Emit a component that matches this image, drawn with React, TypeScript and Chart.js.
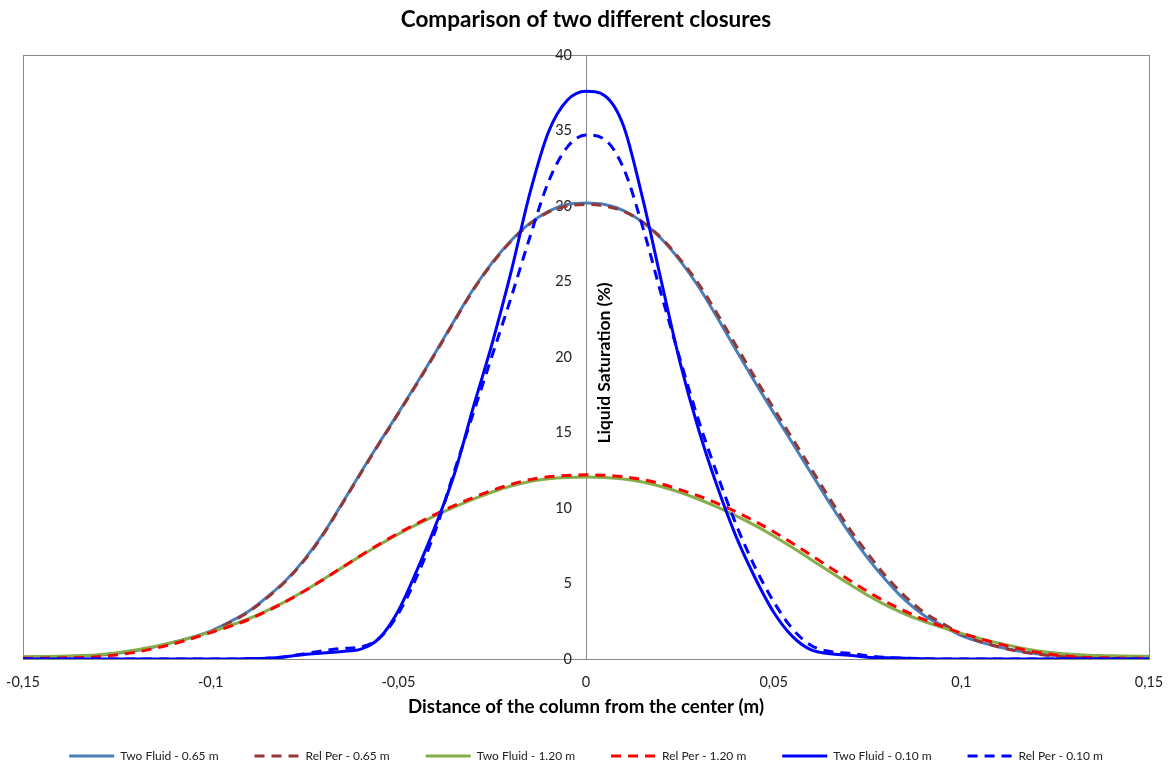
import React, { useEffect, useRef } from "react";
import { Chart, registerables } from "chart.js";

Chart.register(...registerables);

const chartTitle = "Comparison of two different closures";
const xAxisTitle = "Distance of the column from the center (m)";
const yAxisTitle = "Liquid Saturation (%)";

const xTickValues = [-0.15, -0.1, -0.05, 0, 0.05, 0.1, 0.15];
const xTickLabels = ["-0,15", "-0,1", "-0,05", "0", "0,05", "0,1", "0,15"];
const yTickValues = [0, 5, 10, 15, 20, 25, 30, 35, 40];
const yTickLabels = ["0", "5", "10", "15", "20", "25", "30", "35", "40"];

const seriesNames = [
  "Two Fluid - 0.65 m",
  "Rel Per - 0.65 m",
  "Two Fluid - 1.20 m",
  "Rel Per - 1.20 m",
  "Two Fluid - 0.10 m",
  "Rel Per - 0.10 m",
];

const xPositions = [
  -0.15, -0.14, -0.13, -0.12, -0.11, -0.1,
  -0.095, -0.09, -0.085, -0.08, -0.075, -0.07, -0.065, -0.06, -0.055, -0.05,
  -0.045, -0.04, -0.035, -0.03, -0.025, -0.02, -0.015, -0.01, -0.005, 0,
  0.005, 0.01, 0.015, 0.02, 0.025, 0.03, 0.035, 0.04, 0.045, 0.05,
  0.055, 0.06, 0.065, 0.07, 0.075, 0.08, 0.085, 0.09, 0.095, 0.1,
  0.11, 0.12, 0.13, 0.14, 0.15,
];

const twoFluid065 = [
  0.12, 0.15, 0.25, 0.55, 1.1, 1.85,
  2.45, 3.15, 4.1, 5.2, 6.6, 8.3, 10.3, 12.35, 14.35, 16.3,
  18.3, 20.35, 22.45, 24.5, 26.25, 27.7, 28.85, 29.65, 30.1, 30.2,
  30.1, 29.7, 28.95, 27.85, 26.4, 24.65, 22.6, 20.45, 18.35, 16.3,
  14.3, 12.3, 10.3, 8.4, 6.7, 5.2, 3.9, 2.9, 2.2, 1.55,
  0.8, 0.35, 0.17, 0.12, 0.1,
];

const relPer065 = [
  0.05, 0.08, 0.18, 0.5, 1.05, 1.8,
  2.4, 3.1, 4.05, 5.15, 6.55, 8.25, 10.25, 12.3, 14.3, 16.25,
  18.25, 20.3, 22.4, 24.45, 26.2, 27.65, 28.8, 29.6, 30.0, 30.1,
  30.0, 29.65, 28.95, 27.9, 26.5, 24.85, 22.85, 20.75, 18.65, 16.6,
  14.6, 12.6, 10.6, 8.7, 7.0, 5.45, 4.15, 3.1, 2.35, 1.65,
  0.8, 0.32, 0.12, 0.08, 0.06,
];

const twoFluid120 = [
  0.15, 0.18, 0.28, 0.6, 1.1, 1.8,
  2.2, 2.65, 3.2, 3.82, 4.52, 5.27, 6.05, 6.83, 7.57, 8.27,
  8.91, 9.51, 10.07, 10.59, 11.06, 11.46, 11.76, 11.94, 12.02, 12.05,
  12.02, 11.92, 11.72, 11.42, 11.03, 10.58, 10.06, 9.48, 8.85, 8.15,
  7.38, 6.58, 5.78, 4.98, 4.22, 3.55, 2.98, 2.5, 2.08, 1.7,
  1.05, 0.55, 0.3, 0.21, 0.18,
];

const relPer120 = [
  0.05, 0.07, 0.15, 0.45, 1.0, 1.75,
  2.15, 2.6, 3.17, 3.8, 4.5, 5.27, 6.06, 6.86, 7.62, 8.33,
  8.98, 9.6, 10.17, 10.7, 11.17, 11.57, 11.88, 12.07, 12.16, 12.2,
  12.17, 12.07, 11.88, 11.6, 11.22, 10.8, 10.3, 9.74, 9.12, 8.43,
  7.67, 6.87, 6.06, 5.25, 4.47, 3.78, 3.17, 2.62, 2.15, 1.72,
  1.0, 0.45, 0.15, 0.07, 0.05,
];

const twoFluid010 = [
  0, 0, 0, 0, 0, 0,
  0, 0.02, 0.05, 0.15, 0.3, 0.4, 0.5, 0.65, 1.4, 3.2,
  5.9, 8.9, 12.3, 16.7, 20.9, 25.6, 30.8, 34.9, 37.0, 37.6,
  37.3, 35.3, 30.6, 25.1, 19.7, 15.2, 11.4, 8.1, 5.4, 3.1,
  1.5, 0.6, 0.35, 0.25, 0.12, 0.08, 0.05, 0.02, 0, 0,
  0, 0, 0, 0, 0,
];

const relPer010 = [
  0, 0, 0, 0, 0, 0,
  0, 0.02, 0.05, 0.15, 0.35, 0.55, 0.7, 0.8, 1.4, 3.0,
  5.5, 8.6, 12.5, 16.3, 20.1, 23.9, 27.9, 31.6, 33.9, 34.7,
  34.4, 32.5, 28.7, 24.2, 19.9, 15.8, 12.2, 8.9, 6.1, 3.8,
  2.0, 0.9, 0.5, 0.38, 0.22, 0.1, 0.05, 0.02, 0, 0,
  0, 0, 0, 0, 0,
];

const seriesValues = [twoFluid065, relPer065, twoFluid120, relPer120, twoFluid010, relPer010];
const seriesColors = ["#4A7EBB", "#953735", "#86AD49", "#FF0000", "#0000FF", "#0000FF"];
const seriesDashed = [false, true, false, true, false, true];

const FONT = "Lato, 'Open Sans', sans-serif";
const FRAME = "#878787";
const DASH = [10, 7];
const Y_LABEL_BAND = 60;

const centerYAxisPlugin = {
  id: "centerYAxis",
  afterLayout(chart: any) {
    const xs = chart.scales.x;
    const ys = chart.scales.y;
    const px = xs.getPixelForValue(0);
    ys.left = px - Y_LABEL_BAND;
    ys.right = px;
    ys.width = Y_LABEL_BAND;
    ys._labelItems = null;
    ys._gridLineItems = null;
  },
};

const yTitlePlugin = {
  id: "yTitleAtAxis",
  beforeDatasetsDraw(chart: any) {
    const xs = chart.scales.x;
    const ys = chart.scales.y;
    const ctx = chart.ctx;
    ctx.save();
    ctx.translate(xs.getPixelForValue(0) + 18, ys.getPixelForValue(19.6));
    ctx.rotate(-Math.PI / 2);
    ctx.font = `bold 17.5px ${FONT}`;
    ctx.fillStyle = "#000";
    ctx.textAlign = "center";
    ctx.textBaseline = "middle";
    ctx.fillText(yAxisTitle, 0, 0);
    ctx.restore();
  },
};

export default function App() {
  const canvasRef = useRef<HTMLCanvasElement | null>(null);

  useEffect(() => {
    if (!canvasRef.current) return;
    const n = seriesNames.length;
    const datasets = seriesNames.map((name, i) => ({
      label: name,
      data: xPositions.map((x, k) => ({ x, y: seriesValues[i][k] })),
      borderColor: seriesColors[i],
      backgroundColor: seriesColors[i],
      borderWidth: 3,
      borderDash: seriesDashed[i] ? DASH : [],
      pointRadius: 0,
      pointHoverRadius: 0,
      fill: false,
      cubicInterpolationMode: "monotone" as const,
      order: n - i,
    }));

    const chart = new Chart(canvasRef.current, {
      type: "line",
      data: { datasets },
      plugins: [centerYAxisPlugin, yTitlePlugin],
      options: {
        animation: false,
        responsive: false,
        layout: { padding: { left: 23, right: 23, top: 0, bottom: -8 } },
        plugins: {
          title: {
            display: true,
            text: chartTitle,
            color: "#000",
            font: { family: FONT, size: 22.5, weight: "bold" },
            padding: { top: 6.5, bottom: 21.5 },
          },
          legend: {
            position: "bottom",
            labels: {
              usePointStyle: true,
              pointStyle: "line",
              pointStyleWidth: 45,
              color: "#222",
              font: { family: FONT, size: 12 },
              padding: 36,
              sort: (a: any, b: any) => a.datasetIndex - b.datasetIndex,
              generateLabels: (c: any) => {
                const items = (Chart.defaults.plugins.legend.labels as any).generateLabels(c);
                items.forEach((it: any) => {
                  const ds = c.data.datasets[it.datasetIndex];
                  it.lineDash = ds.borderDash;
                  it.lineWidth = 3;
                  it.strokeStyle = ds.borderColor;
                  it.fillStyle = ds.borderColor;
                  it.fontColor = "#222";
                });
                return items;
              },
            },
          },
          tooltip: { enabled: false },
        },
        scales: {
          x: {
            type: "linear",
            min: -0.15,
            max: 0.15,
            afterBuildTicks: (s: any) => {
              s.ticks = xTickValues.map((v) => ({ value: v }));
            },
            afterFit: (s: any) => {
              s.paddingLeft = 0;
              s.paddingRight = 0;
              s.height = 55;
            },
            ticks: {
              autoSkip: false,
              maxRotation: 0,
              padding: 15,
              color: "#222",
              font: { family: FONT, size: 14.5 },
              callback: (v: any) => {
                const idx = xTickValues.indexOf(v);
                return idx >= 0 ? xTickLabels[idx] : "";
              },
            },
            grid: {
              drawTicks: false,
              color: (c: any) =>
                c.tick && (c.tick.value === xTickValues[0] || c.tick.value === xTickValues[xTickValues.length - 1])
                  ? FRAME
                  : "rgba(0,0,0,0)",
            },
            border: { display: true, color: FRAME, width: 1 },
            title: {
              display: true,
              text: xAxisTitle,
              color: "#000",
              font: { family: FONT, size: 18.7, weight: "bold" },
              padding: { top: 0, bottom: -3.8 },
            },
          },
          y: {
            type: "linear",
            min: 0,
            max: 40,
            position: "left",
            afterBuildTicks: (s: any) => {
              s.ticks = yTickValues.map((v) => ({ value: v }));
            },
            afterFit: (s: any) => {
              s.width = 0;
            },
            ticks: {
              padding: 14,
              color: "#222",
              font: { family: FONT, size: 14.5 },
              callback: (v: any) => {
                const idx = yTickValues.indexOf(v);
                return idx >= 0 ? yTickLabels[idx] : "";
              },
            },
            grid: {
              drawTicks: false,
              color: (c: any) =>
                c.tick && c.tick.value === yTickValues[yTickValues.length - 1] ? FRAME : "rgba(0,0,0,0)",
            },
            border: { display: true, color: FRAME, width: 1 },
          },
        },
      } as any,
    });
    return () => chart.destroy();
  }, []);

  return (
    <div style={{ position: "absolute", left: 0, top: 0, width: 1172, height: 764, background: "#fff" }}>
      <canvas ref={canvasRef} width={1172} height={764} />
    </div>
  );
}
